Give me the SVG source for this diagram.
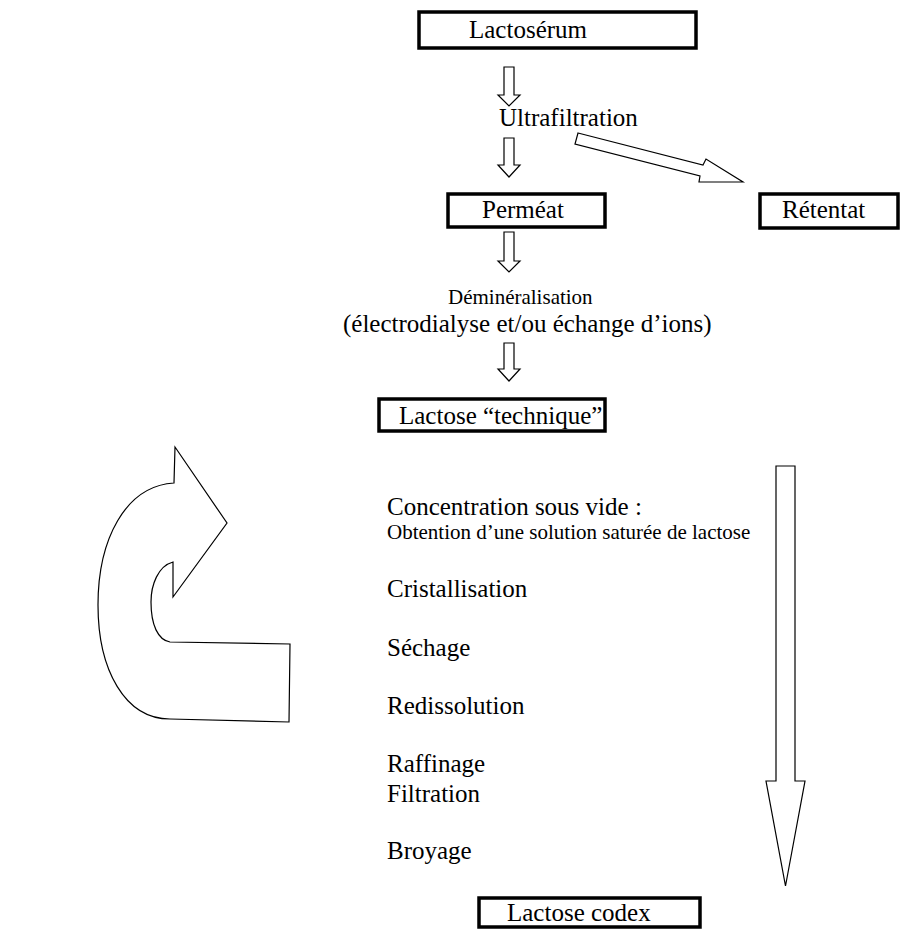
<svg xmlns="http://www.w3.org/2000/svg" width="901" height="929" viewBox="0 0 901 929">
<style>
.box{fill:#fff;stroke:#000;stroke-width:3.5}
.arr{fill:#fff;stroke:#000;stroke-width:1.2;stroke-linejoin:miter}
</style>
<rect width="901" height="929" fill="#fff"/>
<g id="connectors">
<polygon class="arr" points="504,67 514,67 514,95 520,95 509,106 498,95 504,95"/>
<polygon class="arr" points="504,138 514,138 514,165 520,165 509,177 498,165 504,165"/>
<polygon class="arr" points="504,232 514,232 514,261 520,261 509,272 498,261 504,261"/>
<polygon class="arr" points="504,343 514,343 514,369 520,369 509,381 498,369 504,369"/>
<polygon class="arr" points="578,133 703,165 706,159 743,182 699,182 700,176 575,144"/>
<polygon class="arr" points="776,466 795,466 795,781 805,781 785.5,886 766,781 776,781"/>
<path class="arr" d="M175 447 L227 523 L173 597 L173 562 C158 566 151 585 151 602 C151 625 158 640 170 642 L290 644 L289 722 L170 719 C125 719 98 670 98 605 C98 540 125 486 174 483 Z"/>
</g>
<g font-family="Liberation Serif" font-size="25" fill="#000">
<g id="lactoserum"><rect class="box" x="419" y="12" width="277" height="36"/><text x="469" y="38">Lactosérum</text></g>
<g id="ultrafiltration"><text x="499" y="126">Ultrafiltration</text></g>
<g id="permeat"><rect class="box" x="448" y="194" width="157" height="33"/><text x="482" y="218">Perméat</text></g>
<g id="retentat"><rect class="box" x="760" y="194" width="138" height="34"/><text x="782" y="218">Rétentat</text></g>
<g id="demineralisation"><text font-size="21" x="448" y="304">Déminéralisation</text><text x="343" y="332">(électrodialyse et/ou échange d’ions)</text></g>
<g id="lactose-technique"><rect class="box" x="379" y="399" width="226" height="32"/><text x="399" y="424">Lactose “technique”</text></g>
<g id="steps">
<text x="387" y="515">Concentration sous vide :</text>
<text font-size="21" x="387" y="539">Obtention d’une solution saturée de lactose</text>
<text x="387" y="597">Cristallisation</text>
<text x="387" y="656">Séchage</text>
<text x="387" y="714">Redissolution</text>
<text x="387" y="772">Raffinage</text>
<text x="387" y="802">Filtration</text>
<text x="387" y="859">Broyage</text>
</g>
<g id="lactose-codex"><rect class="box" x="479" y="898" width="221" height="29"/><text x="507" y="921">Lactose codex</text></g>
</g>
</svg>
